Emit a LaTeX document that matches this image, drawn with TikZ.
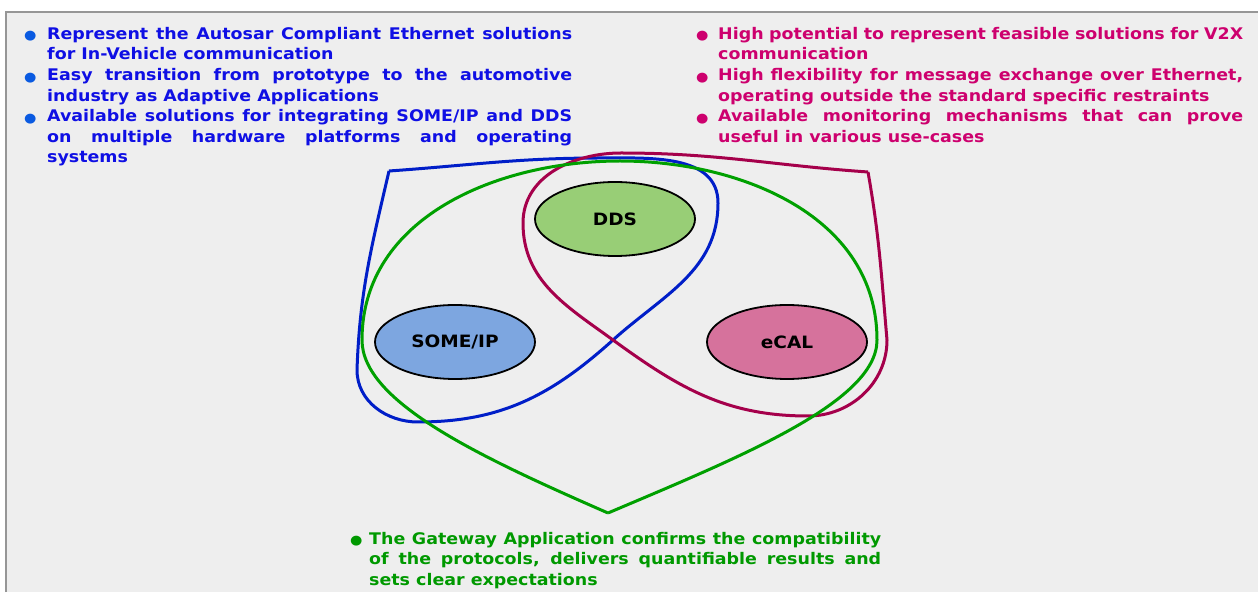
\documentclass[tikz,border=0pt]{standalone}
\usepackage{fontspec}
\setmainfont{DejaVu Sans}[FakeStretch=1.09]
\usepackage{xcolor}
\definecolor{panelgray}{RGB}{238,238,238}
\definecolor{framegray}{RGB}{150,150,150}
\definecolor{txtblue}{RGB}{15,15,228}
\definecolor{dotblue}{RGB}{10,90,225}
\definecolor{txtpink}{RGB}{205,0,110}
\definecolor{txtgreen}{RGB}{0,153,0}
\definecolor{ringblue}{RGB}{0,30,200}
\definecolor{ringpink}{RGB}{165,0,75}
\definecolor{ringgreen}{RGB}{0,160,0}
\definecolor{ddsfill}{RGB}{152,206,118}
\definecolor{somefill}{RGB}{125,166,224}
\definecolor{ecalfill}{RGB}{214,114,156}
\newcommand{\bulletitem}[3][23pt]{\noindent\hangindent=#1\hangafter=1\makebox[#1][l]{\textcolor{#2}{\fontsize{13}{13}\selectfont\raisebox{-0.5pt}{●}}}#3\par}
\usetikzlibrary{shapes.geometric}

\begin{document}
\begin{tikzpicture}[x=1pt,y=1pt,
    proto/.style={ellipse,draw=black,line width=1.8pt,minimum width=160pt,minimum height=74pt,inner sep=0pt,font=\fontsize{17}{17}\selectfont\bfseries},
    ring/.style={line width=3pt},
    notes/.style={anchor=north west,inner sep=0pt,align=justify,font=\fontsize{16}{20.6}\selectfont\bfseries}]
\useasboundingbox (0,0) rectangle (1258,592);
\fill[panelgray] (6,0) rectangle (1258,580);
\draw[framegray,line width=1.5pt] (6,0) -- (6,580) -- (1258,580);

% the three groups
\draw[ring,ringblue] (389,421) to[out=4,in=180] (600,434) to[out=0,in=90] (718,389) to[out=-90,in=42] (613,252) to[out=222,in=0] (418,170) to[out=180,in=-90] (357,222) to[out=88,in=-103] (389,421);
\draw[ring,ringpink] (868,420) to[out=176,in=0] (621,439) to[out=180,in=90] (523,369) to[out=-90,in=144] (613,252) to[out=-36,in=180] (808,176) to[out=0,in=-90] (887,252) to[out=95,in=-80] (868,420);
\draw[ring,ringgreen] (608,79) .. controls (480,135) and (362,190) .. (362,252) to[out=90,in=180] (620,431) to[out=0,in=90] (877,252) .. controls (877,190) and (740,135) .. (608,79);

\node[proto,fill=ddsfill] (dds) at (615,373) {DDS};
\node[proto,fill=somefill] (someip) at (455,250) {SOME/IP};
\node[proto,fill=ecalfill] (ecal) at (787,250) {eCAL};

\node[notes,text width=548pt,text=txtblue] (bluenotes) at (24,565) {%
\bulletitem{dotblue}{Represent the Autosar Compliant Ethernet solutions\linebreak for In-Vehicle communication}
\bulletitem{dotblue}{Easy transition from prototype to the automotive\linebreak industry as Adaptive Applications}
\bulletitem{dotblue}{Available solutions for integrating SOME/IP and DDS\linebreak on multiple hardware platforms and operating\linebreak systems}};
\node[notes,text width=547pt,text=txtpink] (pinknotes) at (696,565) {%
\bulletitem[22pt]{txtpink}{High potential to represent feasible solutions for V2X\linebreak communication}
\bulletitem[22pt]{txtpink}{High flexibility for message exchange over Ethernet,\linebreak operating outside the standard specific restraints}
\bulletitem[22pt]{txtpink}{Available monitoring mechanisms that can prove\linebreak useful in various use-cases}};
\node[notes,text width=531pt,text=txtgreen] (greennotes) at (350,60) {%
\bulletitem[19pt]{txtgreen}{The Gateway Application confirms the compatibility\linebreak of the protocols, delivers quantifiable results and\linebreak sets clear expectations}};
\end{tikzpicture}
\end{document}
